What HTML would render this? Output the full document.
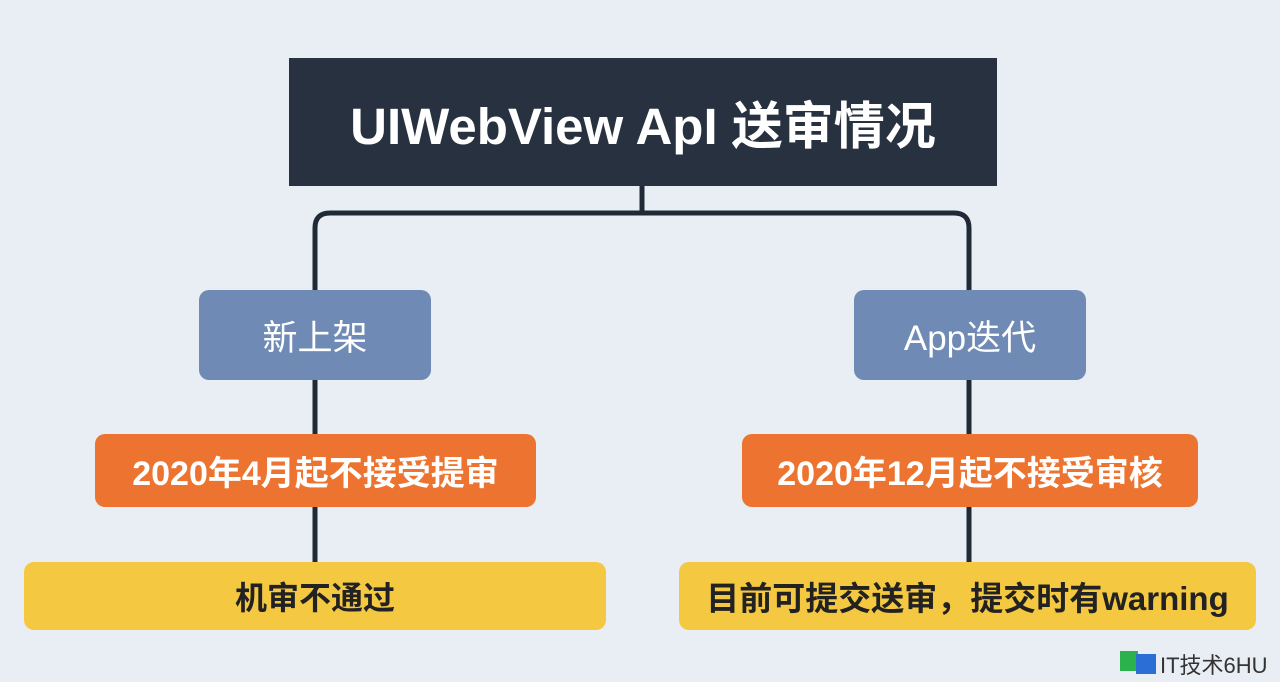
<!DOCTYPE html>
<html><head><meta charset="utf-8"><style>
body{margin:0;width:1280px;height:682px;background:#e9eef4;position:relative;overflow:hidden;font-family:"Liberation Sans","Noto Sans CJK SC",sans-serif}
.b{position:absolute;display:flex;align-items:center;justify-content:center;box-sizing:border-box;white-space:nowrap}
.t{left:289px;top:58px;width:708px;height:128px;background:#27313f;color:#fff;font-size:51px;font-weight:bold}
.bl{top:290px;width:232px;height:90px;background:#6f8bb5;color:#fff;font-size:35px;border-radius:10px}
.or{top:434px;height:73px;background:#ec7430;color:#fff;font-size:34px;font-weight:bold;border-radius:10px}
.ye{top:562px;height:68px;background:#f5c842;color:#222;font-size:32px;font-weight:bold;border-radius:10px}
</style></head><body>
<svg width="1280" height="682" style="position:absolute;left:0;top:0">
<g fill="none" stroke="#1f2a36" stroke-width="5">
<path d="M642 186V213"/>
<path d="M315 290V228Q315 213 330 213H954Q969 213 969 228V290"/>
<path d="M315 380V434M315 507V562M969 380V434M969 507V562"/>
</g>
<rect x="1120" y="651" width="18" height="20" fill="#2bb24c"/>
<rect x="1136" y="654" width="20" height="20" fill="#2b6fd6"/>
</svg>
<div class="b t">UIWebView ApI 送审情况</div>
<div class="b bl" style="left:199px">新上架</div>
<div class="b bl" style="left:854px">App迭代</div>
<div class="b or" style="left:95px;width:441px">2020年4月起不接受提审</div>
<div class="b or" style="left:742px;width:456px">2020年12月起不接受审核</div>
<div class="b ye" style="left:24px;width:582px">机审不通过</div>
<div class="b ye" style="left:679px;width:577px;font-size:33px">目前可提交送审，提交时有warning</div>
<div style="position:absolute;left:1160px;top:648px;font-size:22px;color:#333">IT技术6HU</div>
</body></html>
